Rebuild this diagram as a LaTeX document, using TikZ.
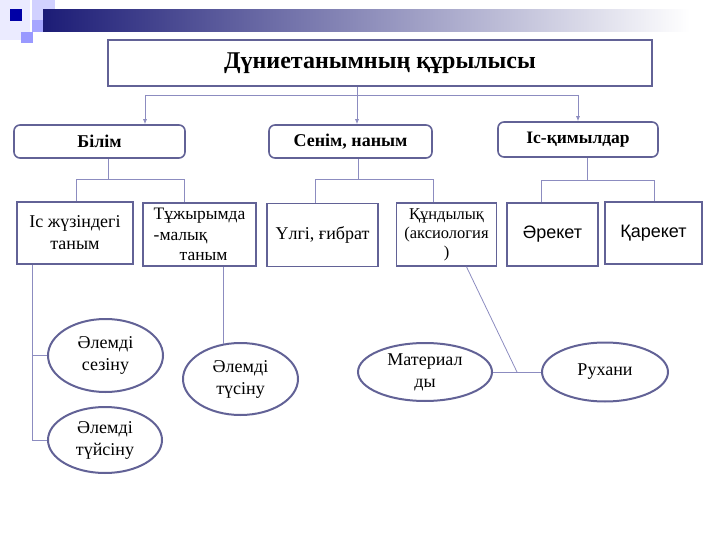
\documentclass[tikz,border=0pt]{standalone}
\usepackage{fontspec}
\setmainfont{Liberation Serif}
\newfontfamily\arialfont{Liberation Sans}
\usetikzlibrary{arrows.meta, positioning, shapes.geometric, calc}

\definecolor{boxline}{RGB}{98,98,150}
\definecolor{linkline}{RGB}{140,140,192}
\definecolor{navy}{RGB}{28,28,118}

\begin{document}
\begin{tikzpicture}[x=1pt, y=-1pt,
    titlebox/.style={draw=boxline, line width=1.6pt, fill=white, rectangle, minimum width=544pt, minimum height=46pt, font=\fontsize{24}{28}\selectfont\bfseries},
    topbox/.style={draw=boxline, line width=1.6pt, fill=white, rounded corners=6pt, minimum height=33pt, font=\fontsize{18}{21}\selectfont\bfseries},
    subbox/.style={draw=boxline, line width=1.6pt, fill=white, rectangle, align=center, inner sep=0pt, font=\fontsize{18}{22}\selectfont},
    leaf/.style={draw=boxline, line width=2pt, fill=white, ellipse, inner sep=0pt, align=center, font=\fontsize{18}{22}\selectfont},
    link/.style={draw=linkline, line width=0.8pt},
    linkarrow/.style={link, -{Latex[length=5pt, width=4pt]}}
]
\useasboundingbox (0,0) rectangle (720,540);

% Header decoration
\fill[blue!8!white] (0,0) rectangle (30,40);
\fill[blue!18!white] (32,0) rectangle (55,32);
\fill[blue!35!white] (32,20) rectangle (43,32);
\shade[left color=navy, right color=white] (43,10) rectangle (690,32);
\fill[blue!65!black] (10,9) rectangle (22,21);
\fill[blue!40!white] (21,32) rectangle (33,43);

% Title
\node[titlebox] (title) at (380,63) {Дүниетанымның құрылысы};

% Top level
\node[topbox, minimum width=171pt] (bilim) at (99.5,141.5) {Білім};
\node[topbox, minimum width=163pt] (senim) at (350.5,141.5) {Сенім, наным};
\node[topbox, minimum width=160pt, minimum height=35pt, font=\fontsize{17.5}{21}\selectfont\bfseries] (iskim) at (578,139.5) {Іс-қимылдар};

\coordinate (busL) at (145,95);
\coordinate (busM) at (357,95);
\coordinate (busR) at (578,95);
\draw[link] (busL) -- (busR);
\draw[linkarrow] (busL) -- (busL |- bilim.north);
\draw[linkarrow] (title.south -| busM) -- (busM |- senim.north);
\draw[linkarrow] (busR) -- (busR |- iskim.north);

% Second level
\node[subbox, minimum width=116pt, minimum height=62pt] (isjuz) at (75,233) {Іс жүзіндегі\\таным};
\node[subbox, minimum width=113pt, minimum height=63pt, align=left, font=\fontsize{17.5}{20.5}\selectfont] (tujyr) at (199.5,234.5) {Тұжырымда\\-малық\\\hspace*{26pt}таным};
\node[subbox, minimum width=111pt, minimum height=63pt] (ulgi) at (322.5,235) {Үлгі, ғибрат};
\node[subbox, minimum width=100pt, minimum height=63pt, font=\fontsize{16.5}{19}\selectfont] (kundy) at (446.5,234.5) {Құндылық\\(аксиология\\)};
\node[subbox, minimum width=91pt, minimum height=63pt, font=\fontsize{18}{22}\arialfont] (areket) at (552.5,234.5) {Әрекет};
\node[subbox, minimum width=97pt, minimum height=62pt, font=\fontsize{18}{22}\arialfont] (qareket) at (653.5,233) {Қарекет};

% Білім branches
\coordinate (bJ) at (108,179);
\coordinate (bL) at (76,179);
\coordinate (bR) at (184,179);
\draw[link] (bJ |- bilim.south) -- (bJ);
\draw[link] (bL |- isjuz.north) -- (bL) -- (bR) -- (bR |- tujyr.north);

% Сенім branches
\coordinate (sJ) at (358,179);
\coordinate (sL) at (315,179);
\coordinate (sR) at (433,179);
\draw[link] (sJ |- senim.south) -- (sJ);
\draw[link] (sL |- ulgi.north) -- (sL) -- (sR) -- (sR |- kundy.north);

% Іс-қимылдар branches
\coordinate (iJ) at (587,180);
\coordinate (iL) at (541,180);
\coordinate (iR) at (654,180);
\draw[link] (iJ |- iskim.south) -- (iJ);
\draw[link] (iL |- areket.north) -- (iL) -- (iR) -- (iR |- qareket.north);

% Third level
\node[leaf, minimum width=115pt, minimum height=73pt] (sezinu) at (105.5,355.5) {Әлемді\\сезіну};
\node[leaf, minimum width=114pt, minimum height=66pt] (tuisinu) at (105,440) {Әлемді\\түйсіну};
\node[leaf, minimum width=115pt, minimum height=72pt] (tusinu) at (240.5,379) {Әлемді\\түсіну};
\node[leaf, minimum width=134pt, minimum height=58pt] (material) at (425,372) {Материал\\ды};
\node[leaf, minimum width=126pt, minimum height=59pt] (rukhani) at (605,372) {Рухани};

\coordinate (tL) at (32,440);
\draw[link] ([xshift=-43pt]isjuz.south) -- (tL) -- (tuisinu.west);
\draw[link] (sezinu.west -| tL) -- (sezinu.west);
\draw[link] ([xshift=23.5pt]tujyr.south) coordinate (tj) -- (tj |- tusinu.117);

\coordinate (mid) at ($(material.east)!0.5!(rukhani.west)$);
\draw[link] (material.east) -- (rukhani.west);
\draw[link] ([xshift=20pt]kundy.south) -- (mid);

\end{tikzpicture}
\end{document}
